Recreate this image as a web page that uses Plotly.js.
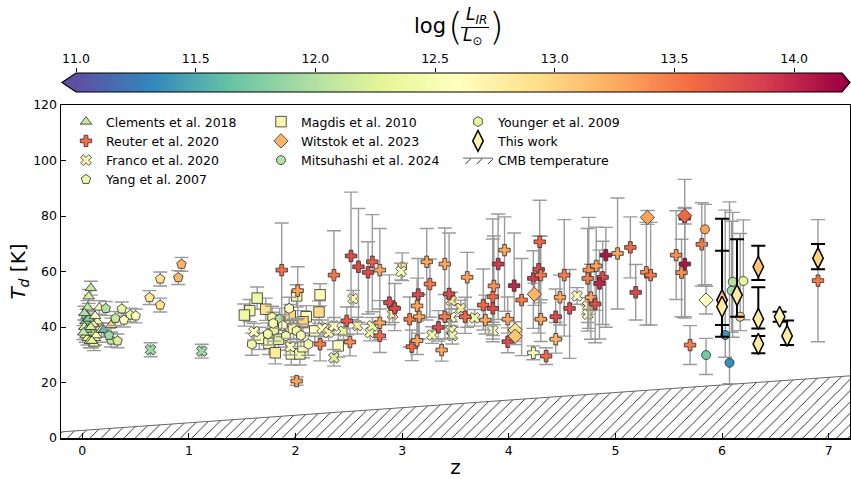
<!DOCTYPE html>
<html>
<head>
<meta charset="utf-8">
<script src="https://cdn.plot.ly/plotly-3.0.1.min.js"></script>
<style>
  html, body { margin: 0; padding: 0; background: #fff; }
  #chart { width: 851px; height: 479px; }
</style>
</head>
<body>
<div id="chart"></div>
<script>
// ---- Dust temperature vs redshift, coloured by log(L_IR / L_sun) ----

// Clements et al. 2018
const clementsZ = [0.08,0.06,0.05,0.04,0.03,0.02,0.14,0.16,0.15,0.12,0.11,0.03,0.05,0.07,0.09,0.04,0.10,0.06,0.02,0.13,0.08,0.01,0.09,0.12,0.18,0.27,0.20];
const clementsT = [54,51,47,44,42,40,42,47,39,36,34,37,36,35,38,39,41,43,45,37,40,38,35,44,39,40.7,38.9];
const clementsL = [12.1,12.2,12.1,11.9,11.8,12.3,12.5,12.6,12.5,12.6,12.4,12.2,12.3,12.4,12.1,11.8,12.4,11.8,12.0,12.5,12.2,12.1,12.3,12.6,12.7,13.0,11.6];
const clementsErr = [2.5,2.5,2.5,2.5,2.5,2.5,2.5,2.5,2.5,2.5,2.5,2.5,2.5,2.5,2.5,2.5,2.5,2.5,2.5,2.5,2.5,2.5,2.5,2.5,2.5,2.5,2.5];

// Reuter et al. 2020
const reuterZ = [1.87,2.02,2.36,2.52,2.59,2.68,2.72,2.79,2.88,2.93,2.48,2.51,2.23,2.79,2.79,2.01,3.07,3.09,3.14,3.15,3.14,3.16,3.23,3.26,3.34,3.40,3.40,3.44,3.37,3.59,3.61,3.78,3.76,3.85,3.85,3.86,3.90,3.96,3.99,3.99,4.05,4.12,4.29,4.28,4.23,4.30,4.30,4.44,4.44,4.52,4.48,4.57,4.35,4.23,4.75,4.82,4.74,4.88,4.85,4.77,4.81,4.91,5.02,5.14,5.19,5.29,5.33,5.57,5.65,5.65,5.62,5.70,5.81,6.90];
const reuterT = [60.5,53.1,58.7,65.6,61.7,59.7,63.5,60.5,48.8,46.7,42.2,34.6,33.8,36.8,41.5,20.5,42.8,32.9,35.1,51.7,47.6,43.7,63.5,55.5,39.9,43.7,62.7,51.9,31.7,43.7,57.9,42.5,47.9,46.7,50.9,54.8,62.7,67.7,42.8,34.7,54.9,49.7,70.7,60.8,57.5,58.7,42.8,43.7,35.6,58.7,50.7,46.7,29.5,30.7,60.5,62.0,57.5,57.9,55.7,50.6,48.3,65.9,66.5,68.7,52.5,59.7,58.7,65.9,79.2,62.7,59.6,33.5,69.8,56.7];
const reuterL = [13.55,13.3,13.5,13.8,13.8,13.8,13.7,13.3,13.8,13.8,13.7,13.4,13.5,13.6,13.3,13.3,13.5,13.6,13.3,13.8,13.3,13.3,13.3,13.5,13.8,13.5,13.3,13.8,13.3,13.6,13.3,13.3,13.6,13.8,13.6,13.4,13.9,13.3,13.3,13.8,14.0,13.5,13.6,13.8,13.9,13.5,13.3,13.8,13.2,13.5,13.3,13.8,13.6,12.6,13.4,13.3,13.5,13.8,14.0,13.3,13.8,14.1,13.3,13.6,13.8,13.4,13.5,13.4,14.0,14.1,13.4,13.5,13.5,13.5];
const reuterErrUp = [17,8.6,16,23,21,11,17,15,10,9,5,5,4,5,8,1.5,8,6,7,13,10,8,12,9,6,8,13,22,4,7,9,9,13,25,28,18,18,12,8,5,19,15,15,12,10,14,7,10,6,20,8,14,3,2.5,19,14,18,13,12,12,14,10,20,11,10,18,19,16,14,20,12,7,15,22];
const reuterErrDown = [21,10,17,23,20,15,18,14,8,8,5,5,6,6,6,1.5,10,5,5,14,12,8,21,12,5,8,20,16,4,6,18,5,9,12,14,14,20,22,5,4,20,20,22,23,18,16,8,8,5,22,10,18,3,2.5,21,16,19,17,20,15,14,26,20,11,10,19,18,16,36,19,16,7,15,22];

// Franco et al. 2020
const francoZ = [2.54,0.64,1.12,1.61,1.95,2.25,2.31,2.36,2.36,2.45,2.58,2.70,2.72,2.91,2.99,3.46,3.55,3.46,3.68,3.28,3.46,3.47,3.85,4.64,4.74,4.74];
const francoT = [50.2,31.8,31.3,38.3,32.9,39.5,38.0,40.4,28.9,38.5,40.5,38.0,40.4,44.6,60.0,49.5,46.7,43.5,43.3,37.1,38.9,36.9,38.7,51.2,47.6,44.6];
const francoL = [12.7,11.9,11.9,12.6,12.6,12.6,12.7,12.6,12.2,12.3,12.8,12.4,12.5,12.8,12.6,12.9,12.8,12.6,12.4,12.4,12.4,12.4,12.6,12.6,12.8,12.6];
const francoErr = [3,2.5,2.5,3,3,3,3,3,3,3,3,3,3,3,3,3,3,3,3,3,3,3,3,3,3,3];

// Yang et al. 2007
const yangZ = [0.45,0.93,0.90,0.73,0.63,0.73,0.37,0.50,0.39,0.31,0.22,0.27,0.33,0.25];
const yangT = [44.3,62.6,57.8,57.3,50.6,47.9,46.5,44.0,42.5,43.1,46.7,35.3,35.0,37.0];
const yangL = [12.4,13.2,13.2,12.9,12.85,12.9,12.3,12.6,12.6,12.1,12.0,12.1,12.2,11.9];
const yangErr = [2.5,2.5,2.5,2.5,2.5,2.5,2.5,2.5,2.5,2.5,2.5,2.5,2.5,2.5];

// Magdis et al. 2010
const magdisZ = [2.01,1.64,1.57,1.52,1.72,2.23,2.22,2.10,2.07,1.95,1.66,1.75,1.81,1.96,2.04,2.18,2.40,1.98,1.84,2.07];
const magdisT = [51.2,50.4,45.9,44.3,46.4,51.6,45.4,43.7,41.9,44.1,35.9,34.1,30.7,30.3,30.3,38.6,33.2,39.5,35.6,32.9];
const magdisL = [12.7,12.4,12.4,12.4,12.9,12.65,12.95,12.6,13.0,13.0,12.6,12.4,12.8,12.6,12.4,12.6,12.6,12.7,12.3,12.6];
const magdisErr = [4,4,4,4,4,4,4,4,4,4,4,4,4,4,4,4,4,4,4,4];

// Witstok et al. 2023
const witstokZ = [4.24,4.06,4.06,5.30,5.65,5.85];
const witstokT = [51.8,38.9,36.7,79.5,80.1,49.7];
const witstokL = [13.2,12.9,13.1,13.3,13.6,12.6];
const witstokErr = [4,3,3,2.5,3,5];

// Mitsuhashi et al. 2024
const mitsuZ = [6.10,5.84,5.85,6.03,6.07,6.09,6.20,6.17];
const mitsuT = [56.3,75.2,29.9,37.1,27.1,53.1,56.6,43.7];
const mitsuL = [12.0,13.3,11.7,11.4,11.35,11.9,12.3,13.0];
const mitsuErrUp = [25,9,6,45,58,25,22,30];
const mitsuErrDown = [20,20,7,8,7.5,15,14,5];

// Younger et al. 2009
const youngerZ = [1.80,1.94,1.78,1.85,1.91,2.01,1.59,2.12,1.79,1.88,3.00,1.74,2.05];
const youngerT = [38.9,46.7,43.5,42.8,36.8,38.6,33.8,33.8,41.3,40.5,61.7,37.5,37.0];
const youngerL = [12.3,12.6,12.7,12.0,12.4,12.4,12.4,12.5,12.5,12.6,12.9,12.4,12.5];
const youngerErr = [4,4,4,4,4,4,4,4,4,4,5,4,4];

// This work
const thisZ = [6.54,6.00,6.00,6.14,6.34,6.34,6.34,6.61,6.90];
const thisT = [43.7,49.7,47.3,51.5,61.7,42.9,33.9,36.8,64.8];
const thisL = [12.7,13.1,12.8,12.8,13.1,12.8,12.8,12.8,13.0];
const thisErrUp = [1.8,17.8,31.7,20.1,7.6,11.4,2.9,5.5,5.1];
const thisErrDown = [1.8,9.0,10.8,7.8,4.8,3.4,3.4,3.3,4.0];

// CMB temperature floor (end points across the redshift range)
const cmbZ = [-0.2, 7.2];
const cmbT = [2.2, 22.4];

// Colour bar
const cbarMin = 11.0, cbarMax = 14.2;
const cbarTicks = [11.0, 11.5, 12.0, 12.5, 13.0, 13.5, 14.0];

// Axis ticks
const zTicks = [0, 1, 2, 3, 4, 5, 6, 7];
const tTicks = [0, 20, 40, 60, 80, 100, 120];

// Spectral_r
const spectralR = [[0,'#5e4fa2'],[0.1,'#3288bd'],[0.2,'#66c2a5'],[0.3,'#abdda4'],[0.4,'#e6f598'],
  [0.5,'#ffffbf'],[0.6,'#fee08b'],[0.7,'#fdae61'],[0.8,'#f46d43'],[0.9,'#d53e4f'],[1,'#9e0142']];

// ---- page geometry (pixels -> paper fractions) ----
const W = 851, H = 479, ML = 61, MR = 1, MT = 5, MB = 41;
const PW = W - ML - MR, PH = H - MT - MB;
const px = x => (x - ML) / PW;
const py = y => (H - MB - y) / PH;

const FONT = 'DejaVu Sans';
const GREY = '#9a9a9a';

function sample(name, z, t, lum, up, down, symbol, size, legend, rank, opts) {
  opts = opts || {};
  return {
    type: 'scatter', mode: 'markers', name: name,
    x: z, y: t,
    legend: legend, legendrank: rank,
    error_y: {
      type: 'data', symmetric: false, array: up, arrayminus: down,
      color: opts.errColor || GREY, thickness: opts.errThick || 1.4, width: opts.capW || 7
    },
    marker: {
      symbol: symbol, size: size, color: lum,
      colorscale: spectralR, cmin: cbarMin, cmax: cbarMax, showscale: false,
      line: { color: opts.edge || '#2b2b2b', width: opts.edgeW || 0.8 }
    },
    hoverinfo: 'x+y'
  };
}

const traces = [];

// hatched region below the CMB temperature
traces.push({
  type: 'scatter', mode: 'lines', name: 'CMB temperature',
  x: cmbZ, y: cmbT, fill: 'tozeroy',
  fillpattern: { shape: '/', size: 8, solidity: 0.1, fgcolor: '#000', bgcolor: '#fff' },
  line: { color: '#666', width: 1 },
  legend: 'legend3', legendrank: 3, hoverinfo: 'skip'
});

traces.push(sample('Clements et al. 2018', clementsZ, clementsT, clementsL, clementsErr, clementsErr, 'triangle-up', 10, 'legend', 1));
traces.push(sample('Yang et al. 2007', yangZ, yangT, yangL, yangErr, yangErr, 'pentagon', 10, 'legend', 4));
traces.push(sample('Magdis et al. 2010', magdisZ, magdisT, magdisL, magdisErr, magdisErr, 'square', 10.5, 'legend2', 1));
traces.push(sample('Younger et al. 2009', youngerZ, youngerT, youngerL, youngerErr, youngerErr, 'hexagon', 10, 'legend3', 1));
traces.push(sample('Franco et al. 2020', francoZ, francoT, francoL, francoErr, francoErr, 'x', 9.5, 'legend', 3));
traces.push(sample('Reuter et al. 2020', reuterZ, reuterT, reuterL, reuterErrUp, reuterErrDown, 'cross', 9.5, 'legend', 2));
traces.push(sample('Witstok et al. 2023', witstokZ, witstokT, witstokL, witstokErr, witstokErr, 'diamond', 11, 'legend2', 2));
traces.push(sample('Mitsuhashi et al. 2024', mitsuZ, mitsuT, mitsuL, mitsuErrUp, mitsuErrDown, 'circle', 9, 'legend2', 3));
traces.push(sample('This work', thisZ, thisT, thisL, thisErrUp, thisErrDown, 'diamond-tall', 15, 'legend3', 2,
  { errColor: '#000', errThick: 2, capW: 7, edge: '#000', edgeW: 1.5 }));

// colour bar gradient
const cbarX = [];
const cbarRow = [];
for (let v = cbarMin; v <= cbarMax + 1e-9; v += 0.005) { cbarX.push(v); cbarRow.push(v); }
traces.push({
  type: 'heatmap', x: cbarX, y: [0], z: [cbarRow],
  colorscale: spectralR, zmin: cbarMin, zmax: cbarMax, showscale: false,
  xaxis: 'x2', yaxis: 'y2', hoverinfo: 'skip', showlegend: false
});

// colour bar ends and outline
const cbL = 76, cbR = 842, cbT = 73, cbB = 92, cbTipL = 62, cbTipR = 850;
const cbMid = (cbT + cbB) / 2;
function pathOf(points) {
  return 'M ' + points.map(p => px(p[0]).toFixed(5) + ',' + py(p[1]).toFixed(5)).join(' L ') + ' Z';
}
const shapes = [
  { type: 'path', xref: 'paper', yref: 'paper', path: pathOf([[cbTipL, cbMid], [cbL + 0.5, cbT], [cbL + 0.5, cbB]]),
    fillcolor: '#5e4fa2', line: { width: 0 }, layer: 'above' },
  { type: 'path', xref: 'paper', yref: 'paper', path: pathOf([[cbTipR, cbMid], [cbR - 0.5, cbT], [cbR - 0.5, cbB]]),
    fillcolor: '#9e0142', line: { width: 0 }, layer: 'above' },
  { type: 'path', xref: 'paper', yref: 'paper',
    path: pathOf([[cbTipL, cbMid], [cbL, cbT], [cbR, cbT], [cbTipR, cbMid], [cbR, cbB], [cbL, cbB]]),
    line: { color: '#000', width: 1.2 }, fillcolor: 'rgba(0,0,0,0)', layer: 'above' },
  // fraction bar of the colour bar label
  { type: 'line', xref: 'paper', yref: 'paper', x0: px(461), x1: px(489), y0: py(27.5), y1: py(27.5),
    line: { color: '#000', width: 1.1 } }
];

function label(text, x, y, size, weight) {
  return { text: text, x: px(x), y: py(y), xref: 'paper', yref: 'paper', showarrow: false,
    xanchor: 'center', yanchor: 'middle',
    font: { family: FONT, size: size, color: '#000', weight: weight || 400 } };
}
const annotations = [
  label('log', 430, 26, 21),
  label('(', 455, 26, 38, 200),
  label(')', 496, 26, 38, 200),
  label('<i>L</i><sub><i>IR</i></sub>', 476, 16, 17),
  label('<i>L</i><sub>\u2299</sub>', 473, 37, 17)
];

const legendBase = {
  bgcolor: 'rgba(0,0,0,0)', borderwidth: 0, orientation: 'v',
  xanchor: 'left', yanchor: 'top', tracegroupgap: 0, itemsizing: 'trace',
  font: { family: FONT, size: 12.5, color: '#000' }
};

const layout = {
  width: W, height: H,
  margin: { l: ML, r: MR, t: MT, b: MB, pad: 0 },
  paper_bgcolor: '#fff', plot_bgcolor: '#fff',
  font: { family: FONT, size: 12.5, color: '#000' },
  showlegend: true,
  legend: Object.assign({}, legendBase, { x: px(66), y: py(107) }),
  legend2: Object.assign({}, legendBase, { x: px(261), y: py(107) }),
  legend3: Object.assign({}, legendBase, { x: px(458), y: py(107) }),
  xaxis: {
    domain: [0, 1], range: [-0.2, 7.2], tickvals: zTicks,
    ticks: 'inside', ticklen: 5, tickwidth: 1, tickcolor: '#000',
    showline: true, linecolor: '#000', linewidth: 1.5, mirror: true,
    showgrid: false, zeroline: false,
    tickfont: { family: FONT, size: 12.5, color: '#000' },
    title: { text: 'z', font: { family: FONT, size: 20, color: '#000' }, standoff: 5 }
  },
  yaxis: {
    domain: [0, py(105)], range: [0, 120], tickvals: tTicks,
    ticks: 'inside', ticklen: 5, tickwidth: 1, tickcolor: '#000',
    showline: true, linecolor: '#000', linewidth: 1.5, mirror: true,
    showgrid: false, zeroline: false,
    tickfont: { family: FONT, size: 12.5, color: '#000' },
    title: { text: '<i>T</i><sub><i>d</i></sub> [K]', font: { family: FONT, size: 20, color: '#000' }, standoff: 2 }
  },
  xaxis2: {
    anchor: 'y2', domain: [px(cbL), px(cbR)], range: [cbarMin, cbarMax],
    side: 'top', tickvals: cbarTicks, ticktext: cbarTicks.map(v => v.toFixed(1)),
    ticks: 'outside', ticklen: 4, tickwidth: 1, tickcolor: '#000',
    showline: false, showgrid: false, zeroline: false, fixedrange: true,
    tickfont: { family: FONT, size: 12.5, color: '#000' }
  },
  yaxis2: {
    anchor: 'x2', domain: [py(cbB), py(cbT)], range: [-0.5, 0.5],
    visible: false, fixedrange: true
  },
  shapes: shapes,
  annotations: annotations
};

Plotly.newPlot('chart', traces, layout, { displayModeBar: false, staticPlot: true });
</script>
</body>
</html>
